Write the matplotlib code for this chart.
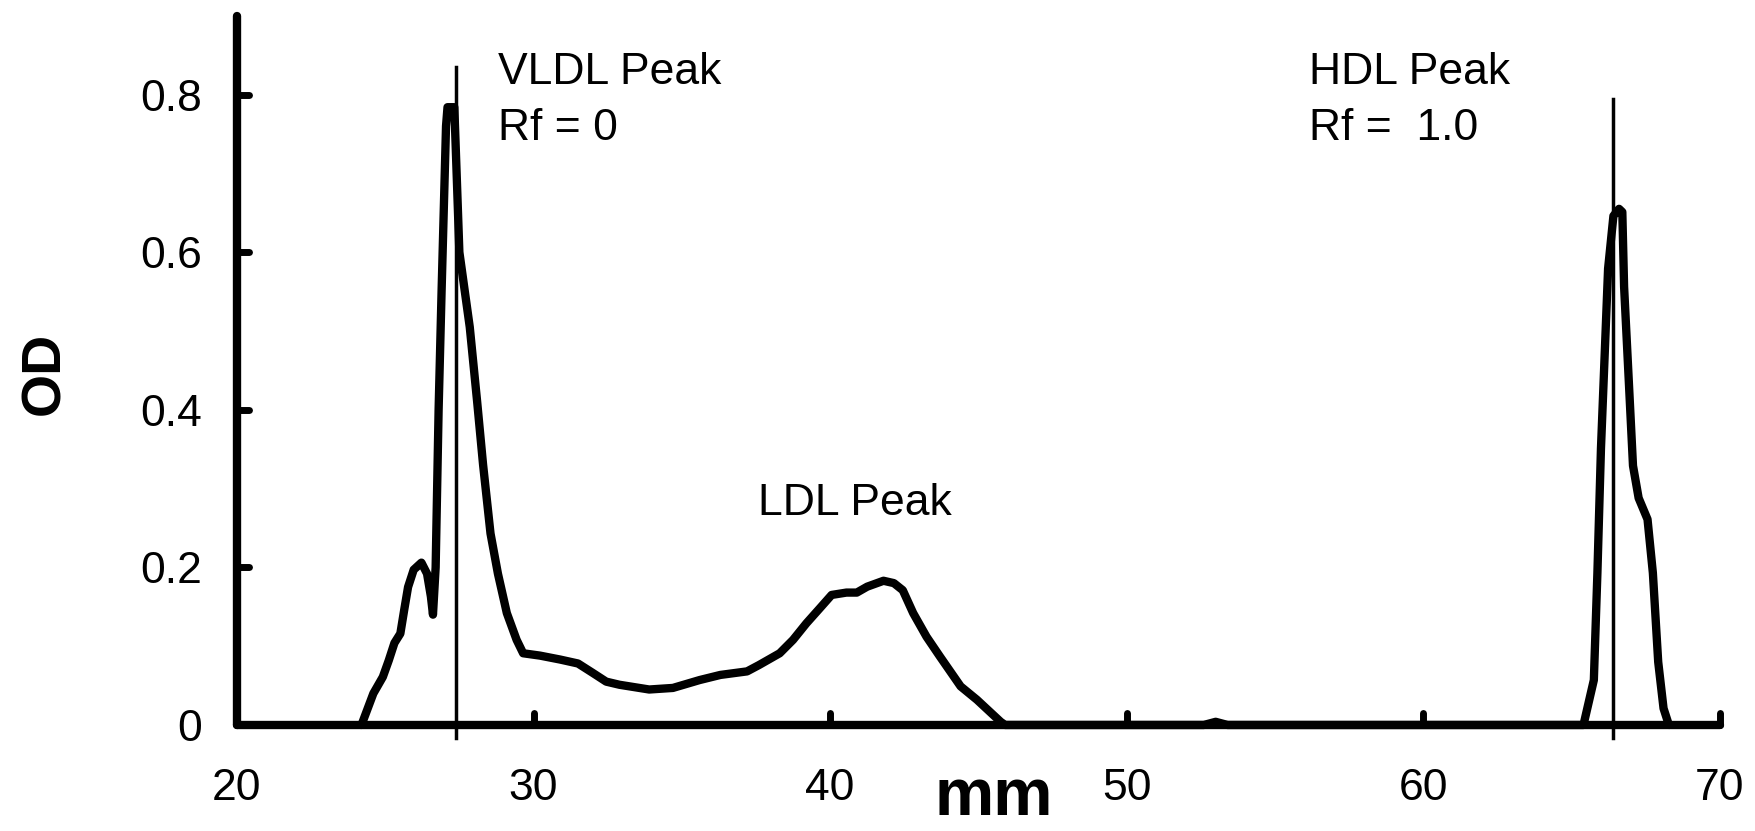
import matplotlib
matplotlib.use("Agg")
import matplotlib.pyplot as plt
from matplotlib.markers import MarkerStyle

plt.rcParams['font.family'] = ['Liberation Sans', 'DejaVu Sans']

# densitometer scan of the gel lane
mm = [24.2, 24.6, 24.92, 25.12, 25.31, 25.51, 25.64, 25.77, 25.96, 26.22,
      26.41, 26.54, 26.61, 26.7, 26.8, 26.9, 27.05, 27.1, 27.33, 27.5,
      27.85, 28.1, 28.3, 28.55, 28.8, 29.1, 29.43, 29.65, 30.22, 30.9,
      31.5, 32.0, 32.45, 32.9, 33.9, 34.7, 35.6, 36.3, 37.2, 37.6,
      38.3, 38.75, 39.2, 39.65, 40.05, 40.55, 40.9, 41.25, 41.8, 42.15,
      42.45, 42.8, 43.25, 43.7, 44.4, 44.95, 45.75, 45.9, 52.6, 53.0,
      53.4, 65.4, 65.75, 65.87, 65.99, 66.11, 66.23, 66.41, 66.6, 66.71,
      66.77, 66.95, 67.07, 67.26, 67.56, 67.74, 67.92, 68.1, 68.28]
od = [0, 0.04, 0.061, 0.082, 0.104, 0.116, 0.146, 0.175, 0.197, 0.206,
      0.192, 0.163, 0.14, 0.2, 0.40, 0.55, 0.76, 0.784, 0.784, 0.6,
      0.505, 0.41, 0.33, 0.243, 0.192, 0.142, 0.108, 0.091, 0.088, 0.083,
      0.078, 0.066, 0.055, 0.051, 0.045, 0.047, 0.057, 0.0635, 0.068, 0.076,
      0.091, 0.108, 0.129, 0.148, 0.165, 0.168, 0.168, 0.1755, 0.183, 0.18,
      0.171, 0.142, 0.112, 0.087, 0.049, 0.032, 0.004, 0, 0, 0.004,
      0, 0, 0.057, 0.193, 0.351, 0.465, 0.579, 0.646, 0.655, 0.651,
      0.556, 0.42, 0.329, 0.288, 0.261, 0.193, 0.08, 0.021, 0]

# reference lines through the VLDL and HDL peaks (mm, top of line in OD)
peak_mm = [27.38, 66.41]
peak_top = [0.835, 0.795]

x_ticks = [20, 30, 40, 50, 60, 70]
y_ticks = [0, 0.2, 0.4, 0.6, 0.8]
y_tick_labels = ['0', '0.2', '0.4', '0.6', '0.8']

fig = plt.figure(figsize=(17.55, 8.31), dpi=100)
ax = fig.add_axes([0.135, 0.1276, 0.845, 0.8534])

ax.plot(mm, od, color='black', lw=6, solid_joinstyle='round',
        solid_capstyle='round', clip_on=False, zorder=3)
for xm, top in zip(peak_mm, peak_top):
    ax.plot([xm, xm], [-0.016, top], color='black', lw=2.5, clip_on=False, zorder=4)

ax.set_xlim(20, 70)
ax.set_ylim(0, 0.9)

for side in ['top', 'right']:
    ax.spines[side].set_visible(False)
for side in ['left', 'bottom']:
    ax.spines[side].set_linewidth(6)
    ax.spines[side].set_capstyle('round')

ax.set_xticks(x_ticks)
ax.set_yticks(y_ticks)
ax.set_yticklabels(y_tick_labels)
ax.tick_params(axis='both', direction='in', length=8.5, width=5, labelsize=32)
ax.tick_params(axis='x', pad=31)
ax.tick_params(axis='y', pad=25)
for tl in ax.xaxis.get_ticklines() + ax.yaxis.get_ticklines():
    tl.set_marker(MarkerStyle(tl.get_marker(), capstyle='round'))

# peak annotations
ax.text(28.8, 0.813, 'VLDL Peak', fontsize=32)
ax.text(28.8, 0.742, 'Rf = 0', fontsize=32)
ax.text(56.16, 0.813, 'HDL Peak', fontsize=32)
ax.text(56.16, 0.742, 'Rf =  1.0', fontsize=32)
ax.text(37.56, 0.267, 'LDL Peak', fontsize=32)

fig.text(0.566, 0.002, 'mm', fontsize=48, fontweight='bold', ha='center', va='bottom')
fig.text(0.026, 0.551, 'OD', fontsize=40, fontweight='bold', rotation=90,
         ha='center', va='center')

fig.savefig('out.png', dpi=100)
